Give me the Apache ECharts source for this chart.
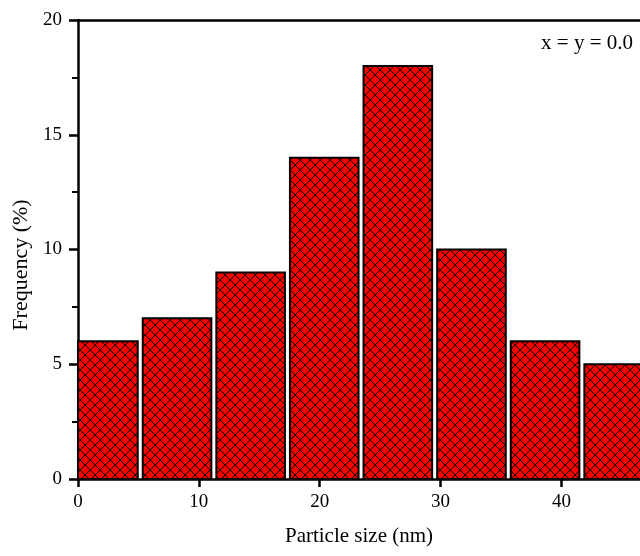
<!DOCTYPE html>
<html>
<head>
    <meta charset="utf-8">
    <title>Particle size histogram</title>
    <script src="https://cdn.jsdelivr.net/npm/echarts@6/dist/echarts.min.js"></script>
    <style>
        html, body { margin: 0; padding: 0; background: #fff; }
        #chart { width: 640px; height: 556px; }
    </style>
</head>
<body>
    <div id="chart"></div>
    <script>
        // histogram bins (nm) and frequencies (%)
        var binStart = [-0.94, 5.15, 11.24, 17.33, 23.42, 29.51, 35.60, 41.69];
        var binEnd = [5.15, 11.24, 17.33, 23.42, 29.51, 35.60, 41.69, 47.78];
        var frequency = [6, 7, 9, 14, 18, 10, 6, 5];
        var xTicks = [0, 10, 20, 30, 40];
        var yTicks = [0, 5, 10, 15, 20];

        var font = 'Liberation Serif';

        // red fill with black cross hatch, drawn pixel by pixel
        var tile = document.createElement('canvas');
        tile.width = 10;
        tile.height = 10;
        var ctx = tile.getContext('2d');
        ctx.fillStyle = '#ff0000';
        ctx.fillRect(0, 0, 10, 10);
        ctx.fillStyle = '#200000';
        for (var i = 0; i < 10; i++) {
            ctx.fillRect(i, i, 1, 1);
            ctx.fillRect(9 - i, i, 1, 1);
        }
        ctx.fillStyle = 'rgba(40,0,0,0.25)';
        for (var j = 0; j < 10; j++) {
            ctx.fillRect((j + 1) % 10, j, 1, 1);
            ctx.fillRect((10 - j) % 10, j, 1, 1);
        }

        var data = frequency.map(function (f, i) { return [binStart[i], binEnd[i], f]; });

        var chart = echarts.init(document.getElementById('chart'));
        var option = {
            animation: false,
            grid: { left: 78, right: 0, top: 20, bottom: 77 },
            xAxis: [{
                type: 'value',
                min: xTicks[0],
                max: 46.5,
                interval: 10,
                name: 'Particle size (nm)',
                nameLocation: 'middle',
                nameGap: 47,
                nameTextStyle: { fontFamily: font, fontSize: 21, color: '#000' },
                axisLine: { lineStyle: { color: '#000', width: 2.5 } },
                axisTick: { length: 8, customValues: xTicks, lineStyle: { color: '#000', width: 2.5 } },
                axisLabel: {
                    fontFamily: font, fontSize: 19, color: '#000', margin: 14,
                    customValues: xTicks
                },
                splitLine: { show: false }
            }, {
                type: 'value',
                position: 'top',
                min: 0,
                max: 46.5,
                axisLine: { show: true, onZero: false, lineStyle: { color: '#000', width: 2.5 } },
                axisTick: { show: false },
                axisLabel: { show: false },
                splitLine: { show: false }
            }],
            yAxis: {
                type: 'value',
                min: yTicks[0],
                max: yTicks[yTicks.length - 1],
                interval: 5,
                name: 'Frequency (%)',
                nameLocation: 'middle',
                nameGap: 46,
                nameTextStyle: { fontFamily: font, fontSize: 22, color: '#000', padding: [0, 31, 0, 0] },
                axisLine: { show: true, lineStyle: { color: '#000', width: 2.5 } },
                axisTick: { length: 9, lineStyle: { color: '#000', width: 2.5 } },
                minorTick: { show: true, splitNumber: 2, length: 6, lineStyle: { color: '#000', width: 2 } },
                axisLabel: { fontFamily: font, fontSize: 19, color: '#000', margin: 16 },
                splitLine: { show: false }
            },
            graphic: [{
                type: 'text',
                right: 7,
                top: 33,
                style: { text: 'x = y = 0.0', fontFamily: font, fontSize: 21, fill: '#000' }
            }],
            series: [{
                type: 'custom',
                clip: false,
                data: data,
                encode: { x: [0, 1], y: 2 },
                renderItem: function (params, api) {
                    var cs = params.coordSys;
                    var p0 = api.coord([api.value(0), api.value(2)]);
                    var p1 = api.coord([api.value(1), 0]);
                    var inset = 2.5;
                    // keep bars inside the frame: left at the axis, right past the page edge
                    var x0 = Math.max(p0[0] + inset, cs.x);
                    var x1 = Math.min(p1[0] - inset, cs.x + cs.width + 6);
                    return {
                        type: 'rect',
                        shape: { x: x0, y: p0[1], width: x1 - x0, height: p1[1] - p0[1] },
                        style: {
                            fill: { image: tile, repeat: 'repeat' },
                            stroke: '#000',
                            lineWidth: 2
                        }
                    };
                }
            }]
        };
        chart.setOption(option);
    </script>
</body>
</html>
